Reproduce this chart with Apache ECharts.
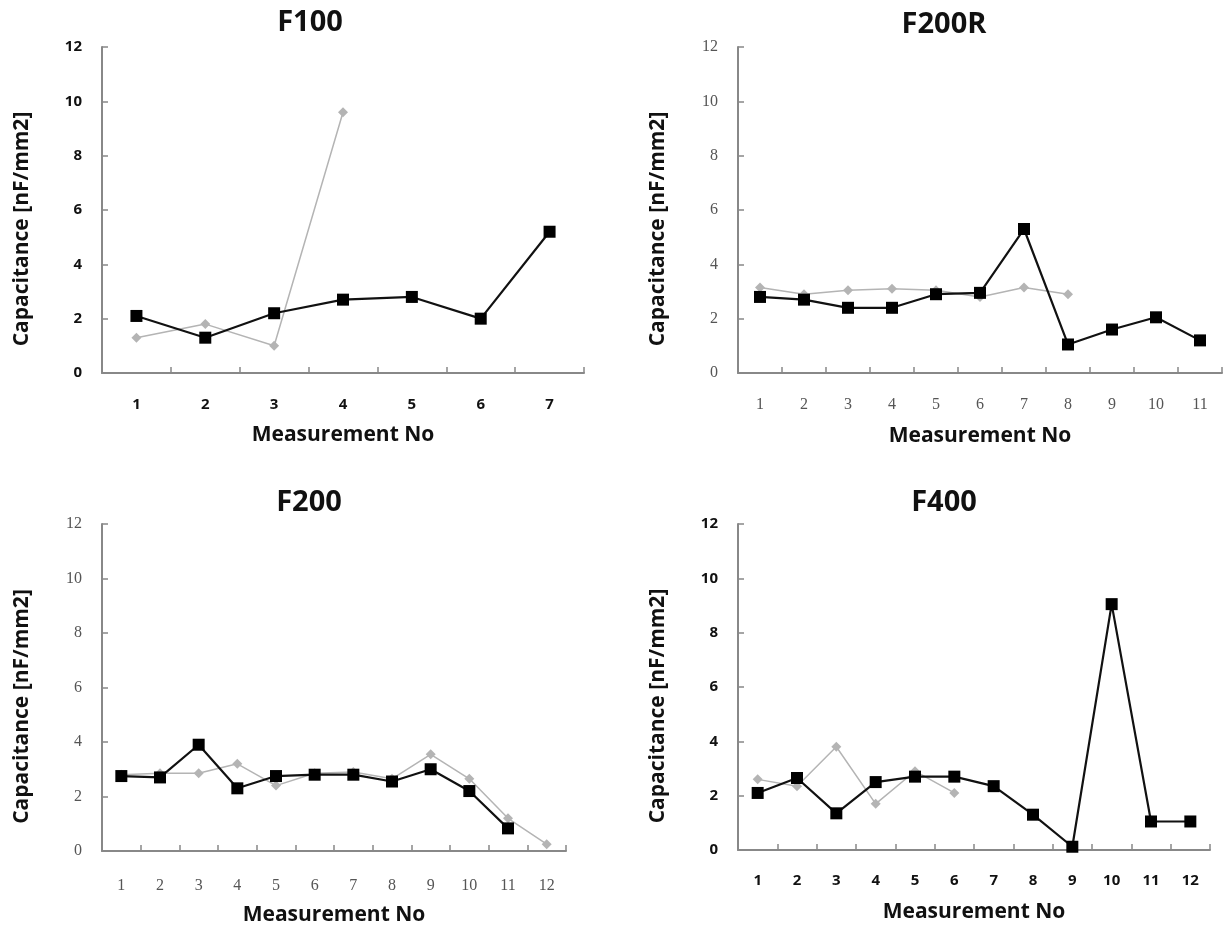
<!DOCTYPE html>
<html>
<head>
<meta charset="utf-8">
<script src="https://cdn.jsdelivr.net/npm/echarts@6/dist/echarts.min.js"></script>
<style>html,body{margin:0;padding:0;background:#fff;}#c{width:1223px;height:927px;}</style>
</head>
<body>
<div id="c"></div>
<script>
// ---- data ----
var titles = ['F100', 'F200R', 'F200', 'F400'];
var cats7 = ['1','2','3','4','5','6','7'];
var cats11 = ['1','2','3','4','5','6','7','8','9','10','11'];
var cats12 = ['1','2','3','4','5','6','7','8','9','10','11','12'];
var yTicks = [0, 2, 4, 6, 8, 10, 12];

var f100Black = [2.1, 1.3, 2.2, 2.7, 2.8, 2.0, 5.2];
var f100Gray  = [1.3, 1.8, 1.0, 9.6];

var f200rBlack = [2.8, 2.7, 2.4, 2.4, 2.9, 2.95, 5.3, 1.05, 1.6, 2.05, 1.2];
var f200rGray  = [3.15, 2.9, 3.05, 3.1, 3.05, 2.8, 3.15, 2.9];

var f200Black = [2.75, 2.7, 3.9, 2.3, 2.75, 2.8, 2.8, 2.55, 3.0, 2.2, 0.83];
var f200Gray  = [2.8, 2.85, 2.85, 3.2, 2.4, 2.85, 2.9, 2.65, 3.55, 2.65, 1.2, 0.25];

var f400Black = [2.1, 2.65, 1.35, 2.5, 2.7, 2.7, 2.35, 1.3, 0.12, 9.05, 1.05, 1.05];
var f400Gray  = [2.6, 2.35, 3.8, 1.7, 2.9, 2.1];

var xName = 'Measurement No';
var yName = 'Capacitance [nF/mm2]';

// ---- layout ----
var grids = [
  {left: 102, top: 47, width: 482, height: 326},
  {left: 738, top: 47, width: 484, height: 326},
  {left: 102, top: 524, width: 464, height: 329},
  {left: 738, top: 524, width: 472, height: 326}
];
var titlePos = [[305, 3], [939, 5], [304, 483], [939, 483]];
var catsList = [cats7, cats11, cats12, cats12];
var blacks = [f100Black, f200rBlack, f200Black, f400Black];
var grays = [f100Gray, f200rGray, f200Gray, f400Gray];
var boldLabels = [true, false, false, true];
var xLabelMargin = [24, 24, 27, 23];
var xNameGap = [52, 53, 54, 52];

var chart = echarts.init(document.getElementById('c'), null, {renderer: 'canvas'});
var option = {
  backgroundColor: '#fff',
  animation: false,
  title: [], grid: [], xAxis: [], yAxis: [], series: []
};
for (var i = 0; i < 4; i++) {
  option.title.push({
    text: titles[i], left: titlePos[i][0], top: titlePos[i][1], textAlign: 'center',
    textStyle: {fontFamily: 'Open Sans', fontWeight: 'bold', fontSize: 29, color: '#111'}
  });
  option.grid.push(grids[i]);
  var lab = boldLabels[i]
    ? {fontFamily: 'Open Sans', fontWeight: 'bold', fontSize: 15, color: '#111'}
    : {fontFamily: 'Liberation Serif', fontWeight: 'normal', fontSize: 16, color: '#555'};
  option.xAxis.push({
    type: 'category', gridIndex: i, data: catsList[i], boundaryGap: true,
    axisLine: {show: true, lineStyle: {color: '#888', width: 2}},
    axisTick: {show: true, inside: true, length: 6, lineStyle: {color: '#888', width: 1.5}},
    axisLabel: Object.assign({margin: xLabelMargin[i]}, lab),
    name: xName, nameLocation: 'middle', nameGap: xNameGap[i],
    nameTextStyle: {fontFamily: 'Open Sans', fontWeight: 'bold', fontSize: 21, color: '#111'},
    splitLine: {show: false}
  });
  option.yAxis.push({
    type: 'value', gridIndex: i, min: yTicks[0], max: yTicks[yTicks.length - 1], interval: 2,
    axisLine: {show: true, lineStyle: {color: '#888', width: 2}},
    axisTick: {show: true, inside: true, length: 6, lineStyle: {color: '#888', width: 1.5}},
    axisLabel: Object.assign({margin: 20}, lab),
    name: yName, nameLocation: 'middle', nameGap: 69,
    nameTextStyle: {fontFamily: 'Open Sans', fontWeight: 'bold', fontSize: 21, color: '#111', padding: [0, 38, 0, 0]},
    splitLine: {show: false}
  });
  option.series.push({
    type: 'line', xAxisIndex: i, yAxisIndex: i, data: grays[i],
    symbol: 'diamond', symbolSize: 10, showAllSymbol: true,
    lineStyle: {color: '#b4b4b4', width: 1.5},
    itemStyle: {color: '#b4b4b4'}, z: 2
  });
  option.series.push({
    type: 'line', xAxisIndex: i, yAxisIndex: i, data: blacks[i],
    symbol: 'rect', symbolSize: 12, showAllSymbol: true,
    lineStyle: {color: '#111', width: 2.2},
    itemStyle: {color: '#000'}, z: 3
  });
}
chart.setOption(option);
</script>
</body>
</html>
